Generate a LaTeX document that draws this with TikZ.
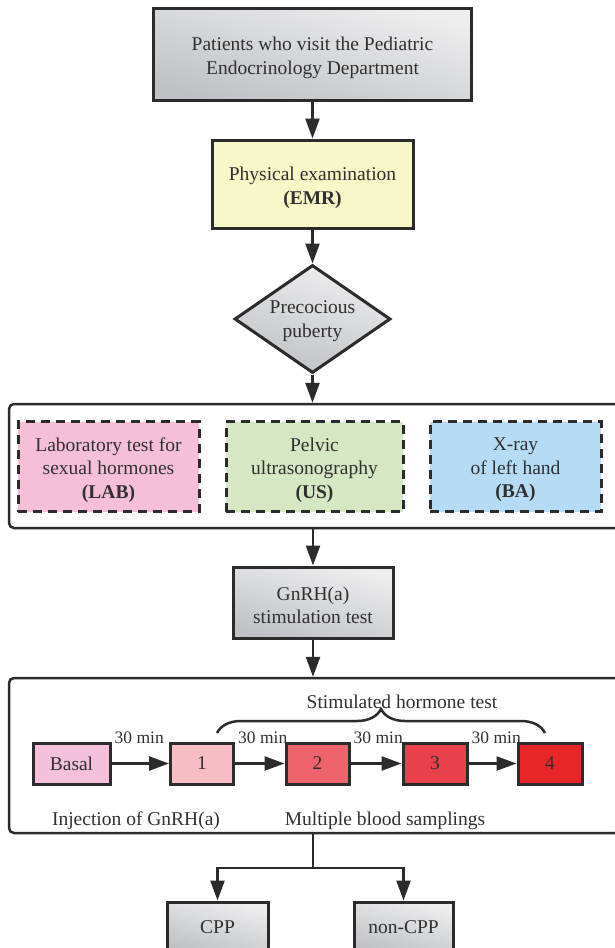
\documentclass[tikz,border=0pt]{standalone}
\usepackage{fontspec}
\setmainfont{Liberation Serif}
\usetikzlibrary{shapes.geometric,arrows.meta,decorations.pathreplacing}
\definecolor{ln}{HTML}{2B2B2B}
\definecolor{txt}{HTML}{303030}
\definecolor{gT}{HTML}{EEEEEF}
\definecolor{gB}{HTML}{BFC1C4}
\definecolor{yel}{HTML}{F7F7C8}
\definecolor{pinkA}{HTML}{F5BFD8}
\definecolor{greenA}{HTML}{D6E7C3}
\definecolor{blueA}{HTML}{B5DCF4}
\definecolor{cBasal}{HTML}{F4C0DC}
\definecolor{cOne}{HTML}{F7BCC4}
\definecolor{cTwo}{HTML}{EF636D}
\definecolor{cThree}{HTML}{E9414B}
\definecolor{cFour}{HTML}{E8262A}
\begin{document}
\begin{tikzpicture}[x=1pt,y=-1pt,
  every node/.style={text=txt, font=\fontsize{19.5}{23.5}\selectfont, align=center, inner sep=0pt},
  gbox/.style={draw=ln, line width=3pt, top color=gT, bottom color=gB, shading angle=-15},
  plainbox/.style={draw=ln, line width=3pt},
  dbox/.style={draw=ln, line width=3pt, dash pattern=on 9pt off 6pt},
  cont/.style={draw=ln, line width=2.5pt, rounded corners=5pt},
  arr/.style={draw=ln, line width=2.5pt, -{Triangle[length=20pt,width=14pt]}},
  conn/.style={draw=ln, line width=2.5pt},
  small/.style={font=\fontsize{17.5}{20}\selectfont},
]
\useasboundingbox (0,0) rectangle (614,948);

% top
\node[gbox, minimum width=318pt, minimum height=92pt] (top) at (312.5,54) {};
\node (toptxt) at ([yshift=-4pt]top.center) {Patients who visit the Pediatric\\Endocrinology Department};
\node[plainbox, fill=yel, minimum width=201pt, minimum height=88pt] (phys) at (312.5,184) {};
\node (phystxt) at ([yshift=-4pt]phys.center) {Physical examination\\\textbf{(EMR)}};
\node[gbox, diamond, minimum width=156pt, minimum height=108pt] (pp) at (312.5,319) {};
\node (pptxt) at ([yshift=-2pt]pp.center) {Precocious\\puberty};

% container 1
\node[cont, minimum width=611pt, minimum height=124pt] (c1) at (314.5,466) {};
\node[dbox, fill=pinkA, minimum width=181pt, minimum height=90pt] (lab) at (108.5,466.5) {};
\node (labtxt) at ([yshift=-3.5pt]lab.center) {Laboratory test for\\sexual hormones\\\textbf{(LAB)}};
\node[dbox, fill=greenA, minimum width=177pt, minimum height=90pt] (us) at (314.5,466.5) {};
\node (ustxt) at ([yshift=-3.5pt]us.center) {Pelvic\\ultrasonography\\\textbf{(US)}};
\node[dbox, fill=blueA, minimum width=171pt, minimum height=90pt] (ba) at (515.5,466.5) {};
\node (batxt) at ([yshift=-3.5pt]ba.center) {X-ray\\of left hand\\\textbf{(BA)}};

\node[gbox, minimum width=160pt, minimum height=71pt] (gnrh) at (313,602.5) {};
\node (gnrhtxt) at ([yshift=-3pt]gnrh.center) {GnRH(a)\\stimulation test};

% container 2
\node[cont, minimum width=611pt, minimum height=155pt] (c2) at (314.5,755.5) {};
\node[plainbox, fill=cBasal, minimum width=77pt, minimum height=41pt] (basal) at (71.5,763.5) {Basal};
\node[plainbox, fill=cOne, minimum width=63pt, minimum height=41pt] (b1) at (202,763.5) {1};
\node[plainbox, fill=cTwo, minimum width=63pt, minimum height=41pt] (b2) at (317.5,763.5) {2};
\node[plainbox, fill=cThree, minimum width=64pt, minimum height=41pt] (b3) at (435,763.5) {3};
\node[plainbox, fill=cFour, minimum width=64pt, minimum height=41pt] (b4) at (550,763.5) {4};

\node[small, anchor=base west] (l1) at ([shift={(3pt,-2pt)}]basal.north east) {30 min};
\node[small, anchor=base west] (l2) at ([shift={(3pt,-2pt)}]b1.north east) {30 min};
\node[small, anchor=base west] (l3) at ([shift={(3pt,-2pt)}]b2.north east) {30 min};
\node[small, anchor=base west] (l4) at ([shift={(3pt,-2pt)}]b3.north east) {30 min};

\coordinate (bl) at (217,733);
\coordinate (br) at (545,733);
\draw[conn, decorate, decoration={brace, amplitude=24pt, aspect=0.5}] (bl) -- (br);
\node (stim) at (402,702) {Stimulated hormone test};

\node (inj) at (136,821) {Injection of GnRH(a)};
\node (mult) at (385,821) {Multiple blood samplings};

% outcomes
\node[gbox, minimum width=101pt, minimum height=50pt] (cpp) at (217.5,927) {CPP};
\node[gbox, minimum width=99pt, minimum height=50pt] (ncpp) at (403.5,927) {non-CPP};

% connectors
\draw[arr] (top) -- (phys);
\draw[arr] (phys) -- (pp);
\draw[arr] (pp.south) -- (pp.south |- c1.north);
\draw[arr] (gnrh.north |- c1.south) -- (gnrh.north);
\draw[arr] (gnrh.south) -- (gnrh.south |- c2.north);
\draw[arr] (basal) -- (b1);
\draw[arr] (b1) -- (b2);
\draw[arr] (b2) -- (b3);
\draw[arr] (b3) -- (b4);
\coordinate (split) at (313,868);
\draw[conn] (split |- c2.south) -- (split);
\draw[arr] (split) -| (cpp.north);
\draw[arr] (split) -| (ncpp.north);
\end{tikzpicture}
\end{document}
